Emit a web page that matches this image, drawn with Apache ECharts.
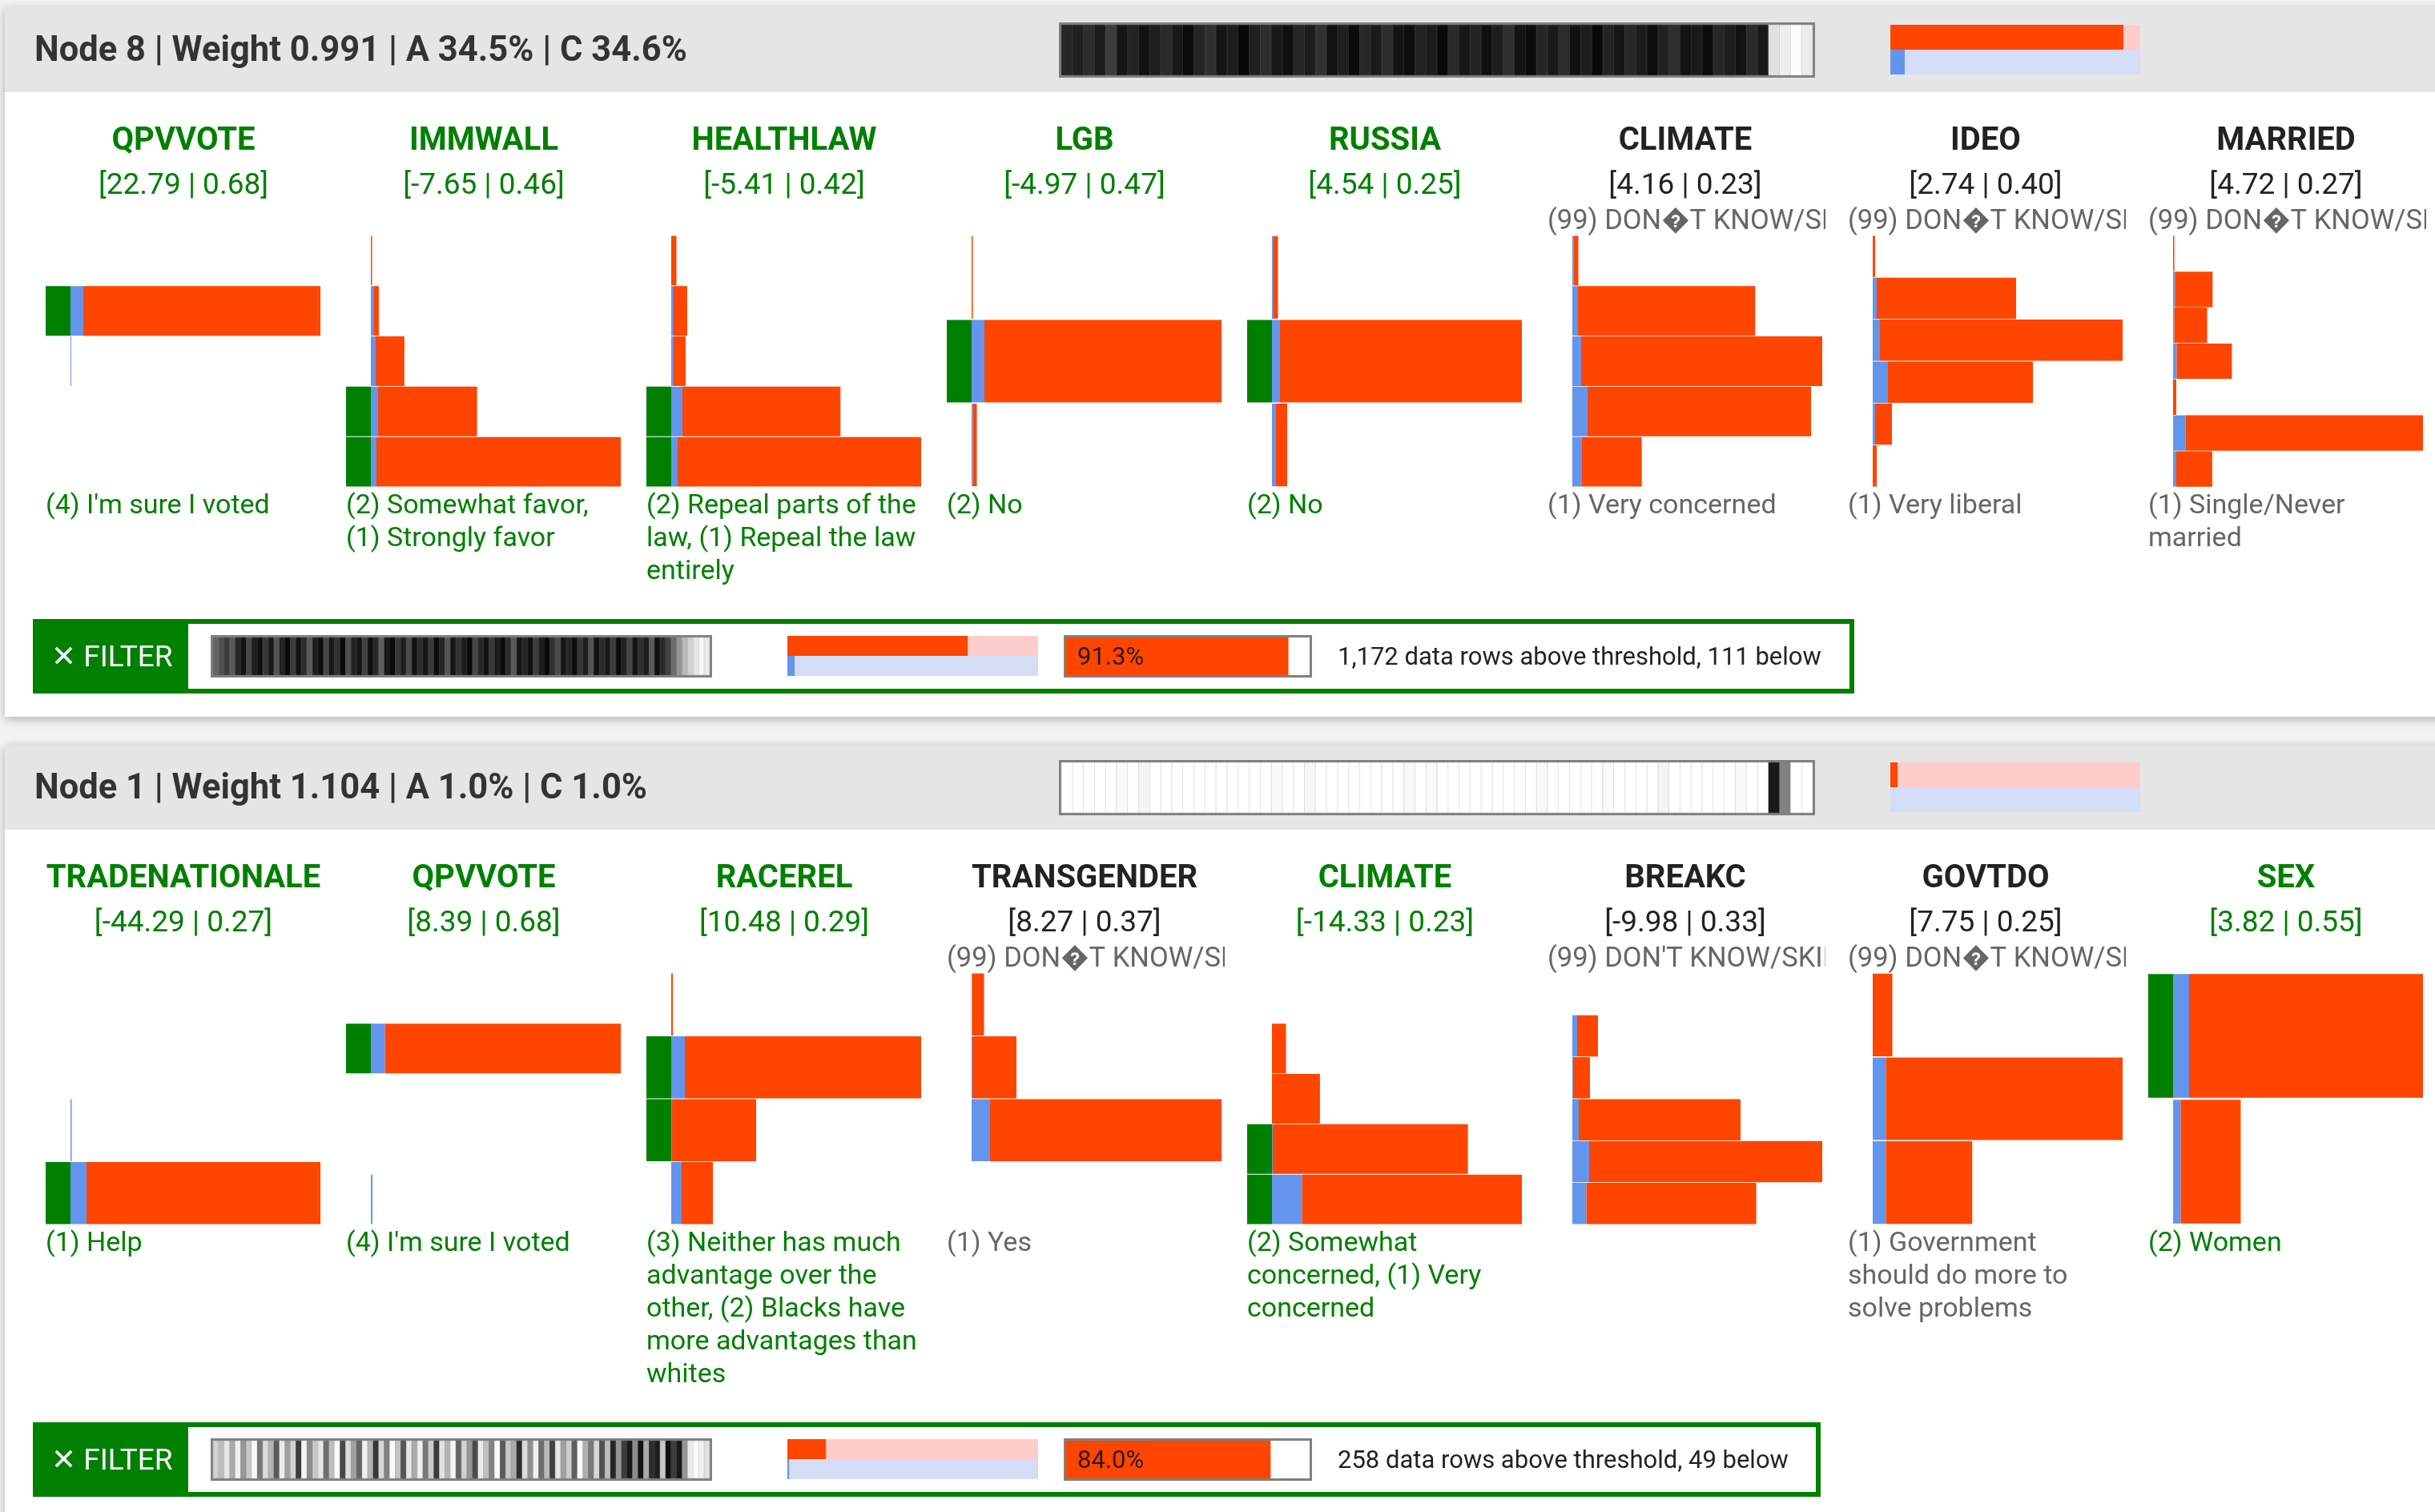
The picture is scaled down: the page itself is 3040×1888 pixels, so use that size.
<!DOCTYPE html>
<html>
<head>
<meta charset="utf-8">
<title>Node cards</title>
<script src="https://cdn.jsdelivr.net/npm/echarts@6/dist/echarts.min.js"></script>
<style>
  html, body { margin: 0; padding: 0; overflow: hidden; background: #f3f3f3; }
  #main { width: 3040px; height: 1888px; }
</style>
</head>
<body>
<div id="main"></div>
<script>
var RED = '#ff4500', BLUE = '#6495ed', GREEN = '#008000', PINK = '#ffcccc', LBLUE = '#d3ddf6';
var FONT = 'Roboto, "DejaVu Sans", sans-serif';
var DK = '(99) DON\uFFFDT KNOW/SKIPPED';

// ---------- Node 8 ----------
var n8Title = 'Node 8 | Weight 0.991 | A 34.5% | C 34.6%';
var n8Vars = ['QPVVOTE', 'IMMWALL', 'HEALTHLAW', 'LGB', 'RUSSIA', 'CLIMATE', 'IDEO', 'MARRIED'];
var n8Stats = ['[22.79 | 0.68]', '[-7.65 | 0.46]', '[-5.41 | 0.42]', '[-4.97 | 0.47]', '[4.54 | 0.25]', '[4.16 | 0.23]', '[2.74 | 0.40]', '[4.72 | 0.27]'];
var n8Split = [1, 1, 1, 1, 1, 0, 0, 0];
var n8Top = ['', '', '', '', '', DK, DK, DK];
var n8Bottom = [
  '(4) I\'m sure I voted',
  '(2) Somewhat favor,\n(1) Strongly favor',
  '(2) Repeal parts of the\nlaw, (1) Repeal the law\nentirely',
  '(2) No',
  '(2) No',
  '(1) Very concerned',
  '(1) Very liberal',
  '(1) Single/Never\nmarried'
];
var n8Cats = [
  ['(99)', '(4)', '(3)', '(2)', '(1)'],
  ['(99)', '(4)', '(3)', '(2)', '(1)'],
  ['(99)', '(4)', '(3)', '(2)', '(1)'],
  ['(99)', '(2)', '(1)'],
  ['(99)', '(2)', '(1)'],
  ['(99)', '(4)', '(3)', '(2)', '(1)'],
  ['(99)', '(5)', '(4)', '(3)', '(2)', '(1)'],
  ['(99)', '(6)', '(5)', '(4)', '(3)', '(2)', '(1)']
];
var n8Blue = [
  [0, 16, 1, 0, 0],
  [0, 4, 6, 9, 7],
  [0, 3, 3, 14, 8],
  [0, 16, 1.5],
  [2, 10, 5],
  [1.5, 7, 11, 19, 12],
  [0, 5, 9, 19, 3, 0],
  [0, 2.4, 1.6, 4.5, 0, 15.5, 4]
];
var n8Red = [
  [0, 297, 0, 0, 0],
  [1.5, 6, 36, 124, 306],
  [6.5, 17, 15, 198, 305],
  [1.5, 296, 5],
  [5.5, 302, 14],
  [6, 222, 302, 280, 75],
  [3, 174, 303, 181, 21, 5],
  [1.6, 47, 41, 69, 4, 297, 45]
];
var n8Sel = [
  [0, 1, 0, 0, 0],
  [0, 0, 0, 1, 1],
  [0, 0, 0, 1, 1],
  [0, 1, 0],
  [0, 1, 0],
  [0, 0, 0, 0, 0],
  [0, 0, 0, 0, 0, 0],
  [0, 0, 0, 0, 0, 0, 0]
];
var n8Bar = [38, 32, 45, 28, 60, 22, 35, 18, 30, 42, 25, 12, 36, 48, 20, 28, 8, 33, 45, 24,
  15, 38, 28, 50, 18, 32, 12, 40, 26, 46, 20, 14, 34, 28, 10, 42, 24, 36, 16, 30,
  48, 20, 12, 38, 26, 44, 18, 30, 8, 36, 22, 40, 28, 14, 34, 46, 20, 26, 12, 38,
  30, 18, 42, 24, 225, 238, 252, 236];
var n8Share = [0.933, 0.058];
var n8FilterBar = [100, 80, 60, 90, 40, 20, 70, 30, 15, 55, 25, 85, 35, 10, 60, 20, 45, 90, 30, 15,
  70, 25, 50, 12, 80, 35, 20, 65, 15, 40, 95, 25, 10, 55, 30, 75, 18, 45, 22, 60,
  12, 35, 85, 20, 50, 28, 10, 70, 40, 18, 58, 30, 12, 45, 88, 22, 35, 15, 62, 28,
  10, 48, 75, 20, 38, 14, 55, 30, 85, 18, 42, 25, 60, 12, 35, 70, 20, 48, 28, 90,
  15, 40, 65, 110, 150, 185, 210, 230, 245, 235];
var n8FilterShare = [0.72, 0.03];
var n8FilterPct = 91.3;
var n8FilterText = '1,172 data rows above threshold, 111 below';

// ---------- Node 1 ----------
var n1Title = 'Node 1 | Weight 1.104 | A 1.0% | C 1.0%';
var n1Vars = ['TRADENATIONALE', 'QPVVOTE', 'RACEREL', 'TRANSGENDER', 'CLIMATE', 'BREAKC', 'GOVTDO', 'SEX'];
var n1Stats = ['[-44.29 | 0.27]', '[8.39 | 0.68]', '[10.48 | 0.29]', '[8.27 | 0.37]', '[-14.33 | 0.23]', '[-9.98 | 0.33]', '[7.75 | 0.25]', '[3.82 | 0.55]'];
var n1Split = [1, 1, 1, 0, 1, 0, 0, 1];
var n1Top = ['', '', '', DK, '', '(99) DON\'T KNOW/SKIPPED', DK, ''];
var n1Bottom = [
  '(1) Help',
  '(4) I\'m sure I voted',
  '(3) Neither has much\nadvantage over the\nother, (2) Blacks have\nmore advantages than\nwhites',
  '(1) Yes',
  '(2) Somewhat\nconcerned, (1) Very\nconcerned',
  '',
  '(1) Government\nshould do more to\nsolve problems',
  '(2) Women'
];
var n1Cats = [
  ['(99)', '(3)', '(2)', '(1)'],
  ['(99)', '(4)', '(3)', '(2)', '(1)'],
  ['(99)', '(3)', '(2)', '(1)'],
  ['(99)', '(3)', '(2)', '(1)'],
  ['(99)', '(4)', '(3)', '(2)', '(1)'],
  ['(99)', '(5)', '(4)', '(3)', '(2)', '(1)'],
  ['(99)', '(2)', '(1)'],
  ['(2)', '(1)']
];
var n1Blue = [
  [0, 0, 1.5, 20],
  [0, 17.6, 0, 0, 2],
  [0, 17, 1, 13],
  [0.5, 1, 23, 0],
  [0, 0, 0, 1, 37.5],
  [0, 6, 1, 8, 21, 17.6],
  [0, 16.4, 16.4],
  [20, 9.4]
];
var n1Red = [
  [0, 0, 0, 292],
  [0, 294.6, 0, 0, 0],
  [2, 295, 105, 39],
  [15, 55, 289, 0],
  [0, 17.6, 60, 244, 275],
  [0, 26, 21, 202, 291, 212],
  [24.6, 296, 108],
  [292, 75]
];
var n1Sel = [
  [0, 0, 0, 1],
  [0, 1, 0, 0, 0],
  [0, 1, 1, 0],
  [0, 0, 0, 0],
  [0, 0, 0, 1, 1],
  [0, 0, 0, 0, 0, 0],
  [0, 0, 0],
  [1, 0]
];
var n1Bar = [255, 255, 255, 255, 255, 250, 255, 244, 255, 255, 255, 255, 255, 255, 255, 255, 255, 255, 255, 250,
  255, 255, 246, 255, 255, 255, 255, 255, 255, 255, 255, 248, 255, 250, 255, 255, 255, 255, 255, 255,
  255, 255, 255, 248, 255, 255, 255, 255, 255, 250, 255, 255, 255, 255, 244, 255, 255, 255, 255, 255,
  255, 250, 255, 255, 25, 130, 255, 255];
var n1Share = [0.03, 0.0];
var n1FilterBar = [210, 190, 230, 170, 240, 150, 200, 250, 120, 220, 180, 90, 235, 160, 210, 60, 245, 140, 200, 230,
  110, 190, 250, 70, 220, 160, 100, 240, 180, 55, 215, 130, 250, 195, 85, 230, 170, 240, 120, 205,
  60, 225, 180, 245, 100, 210, 150, 75, 235, 190, 130, 250, 90, 200, 170, 45, 220, 145, 240, 110,
  185, 65, 230, 160, 205, 95, 250, 175, 120, 215, 80, 190, 35, 150, 60, 25, 140, 20, 170, 45,
  30, 200, 15, 60, 25, 150, 235, 250, 240, 225];
var n1FilterShare = [0.155, 0.008];
var n1FilterPct = 84.0;
var n1FilterText = '258 data rows above threshold, 49 below';

// ---------- build ----------
var chart = echarts.init(document.getElementById('main'), null, {renderer: 'canvas'});
var grids = [], xAxes = [], yAxes = [], series = [], G = [];

function addGrid(x, y, w, h) {
  grids.push({left: x, top: y, width: w, height: h, containLabel: false});
  return grids.length - 1;
}
// background pieces sit below the series (series z = 2)
function rect(x, y, w, h, fill, z, extra) {
  G.push({type: 'rect', z: z, silent: true, shape: {x: x, y: y, width: w, height: h},
    style: Object.assign({fill: fill}, extra || {})});
}
function text(x, y, s, st, z) {
  G.push({type: 'text', x: x, y: y, z: z || 20, silent: true,
    style: Object.assign({text: s, fontFamily: FONT, fontSize: 34, fill: '#222', align: 'left', verticalAlign: 'middle'}, st)});
}

function barcode(grays, x, y, w, h) {
  var gi = addGrid(x, y, w, h);
  xAxes.push({gridIndex: gi, type: 'category', data: grays.map(function (g, k) { return k; }), show: false});
  yAxes.push({gridIndex: gi, type: 'value', min: 0, max: 1, show: false});
  series.push({type: 'bar', xAxisIndex: gi, yAxisIndex: gi, barCategoryGap: 0, silent: true,
    data: grays.map(function (g) {
      var c = 'rgb(' + g + ',' + g + ',' + g + ')';
      return {value: 1, itemStyle: {color: c, borderColor: c, borderWidth: 0.6}};
    })});
}

function shareBars(share, x, y, w, h) {
  var gi = addGrid(x, y, w, h);
  xAxes.push({gridIndex: gi, type: 'value', min: 0, max: 1, show: false});
  yAxes.push({gridIndex: gi, type: 'category', data: ['A', 'C'], inverse: true, show: false});
  series.push({type: 'bar', xAxisIndex: gi, yAxisIndex: gi, stack: 's' + gi, barCategoryGap: 0, silent: true,
    data: [{value: share[0], itemStyle: {color: RED}}, {value: share[1], itemStyle: {color: BLUE}}]});
  series.push({type: 'bar', xAxisIndex: gi, yAxisIndex: gi, stack: 's' + gi, barCategoryGap: 0, silent: true,
    data: [{value: 1 - share[0], itemStyle: {color: PINK}}, {value: 1 - share[1], itemStyle: {color: LBLUE}}]});
}

function pctBar(pct, x, y, w, h) {
  var gi = addGrid(x, y, w, h);
  xAxes.push({gridIndex: gi, type: 'value', min: 0, max: 100, show: false});
  yAxes.push({gridIndex: gi, type: 'category', data: ['p'], show: false});
  series.push({type: 'bar', xAxisIndex: gi, yAxisIndex: gi, barCategoryGap: 0, silent: true,
    itemStyle: {color: RED}, data: [pct],
    label: {show: true, position: 'insideLeft', distance: 14, offset: [0, 3], color: '#2a1a14', fontFamily: FONT, fontSize: 31,
      formatter: function (p) { return p.value.toFixed(1) + '%'; }}});
}

function barChart(x, y, cats, blue, red, sel) {
  var gi = addGrid(x, y, 343, 314);
  var M = Math.max.apply(null, blue.map(function (b, k) { return b + red[k]; }));
  var g0 = M * 31 / 312;
  xAxes.push({gridIndex: gi, type: 'value', min: -g0, max: M, show: false});
  yAxes.push({gridIndex: gi, type: 'category', data: cats, inverse: true, show: false});
  var common = {type: 'bar', xAxisIndex: gi, yAxisIndex: gi, stack: 'k' + gi, barCategoryGap: '1.5%', silent: true};
  series.push(Object.assign({name: 'split', itemStyle: {color: GREEN},
    data: sel.map(function (s) { return s ? -g0 : 0; })}, common));
  series.push(Object.assign({name: 'C', itemStyle: {color: BLUE}, data: blue}, common));
  series.push(Object.assign({name: 'A', itemStyle: {color: RED}, data: red}, common));
}

function buildCard(d, oy, cardH, ft, fRight) {
  rect(6, oy + 9, 3060, cardH, '#fff', -3, {shadowBlur: 12, shadowColor: 'rgba(0,0,0,0.28)', shadowOffsetY: 3});
  rect(6, oy + 9, 3060, 106, '#e5e5e5', -2);
  text(43, oy + 65, d.title, {fontSize: 43.5, fontWeight: 'bold', fill: '#333'});

  rect(1322, oy + 28, 944, 69, '#808080', 1);
  barcode(d.bar, 1325, oy + 31, 938, 63);
  shareBars(d.share, 2360, oy + 31, 312, 62);

  for (var i = 0; i < 8; i++) {
    var L = 57 + 375 * i;
    var col = d.split[i] ? GREEN : '#222';
    text(L + 172, oy + 177, d.vars[i], {fontSize: 40, fontWeight: 'bold', fill: col, align: 'center'});
    text(L + 172, oy + 233, d.stats[i], {fontSize: 37, fill: col, align: 'center'});
    if (d.top[i]) {
      text(L, oy + 277, d.top[i], {fontSize: 34.5, fill: '#666', width: 372, overflow: 'truncate', ellipsis: ''});
      rect(L + 347, oy + 252, 28, 48, '#fff', 30);
    }
    barChart(L, oy + 294, d.cats[i], d.blue[i], d.red[i], d.sel[i]);
    if (d.bottom[i]) {
      text(L, oy + 612, d.bottom[i], {fontSize: 34, lineHeight: 41, verticalAlign: 'top',
        fill: d.split[i] ? GREEN : '#666'});
    }
  }

  // filter strip
  rect(41, ft, fRight - 41, 93, GREEN, -1);
  rect(235, ft + 6, fRight - 6 - 235, 81, '#fff', 0);
  text(64, ft + 50, '\u2715 FILTER', {fontSize: 37, fill: '#fff'});
  rect(263, ft + 20, 626, 53, '#808080', 1);
  barcode(d.fbar, 266, ft + 23, 620, 47);
  shareBars(d.fshare, 983, ft + 21, 313, 50);
  rect(1328, ft + 20, 310, 53, '#808080', 1);
  rect(1331, ft + 23, 304, 47, '#fff', 1.5);
  pctBar(d.fpct, 1331, ft + 23, 304, 47);
  text(1670, ft + 49, d.ftext, {fontSize: 31, fill: '#222'});
}

buildCard({title: n8Title, vars: n8Vars, stats: n8Stats, split: n8Split, top: n8Top, bottom: n8Bottom,
  cats: n8Cats, blue: n8Blue, red: n8Red, sel: n8Sel, bar: n8Bar, share: n8Share,
  fbar: n8FilterBar, fshare: n8FilterShare, fpct: n8FilterPct, ftext: n8FilterText}, 0, 886, 773, 2315);

buildCard({title: n1Title, vars: n1Vars, stats: n1Stats, split: n1Split, top: n1Top, bottom: n1Bottom,
  cats: n1Cats, blue: n1Blue, red: n1Red, sel: n1Sel, bar: n1Bar, share: n1Share,
  fbar: n1FilterBar, fshare: n1FilterShare, fpct: n1FilterPct, ftext: n1FilterText}, 921, 1000, 1776, 2273);

chart.setOption({
  animation: false,
  backgroundColor: '#f3f3f3',
  grid: grids,
  xAxis: xAxes,
  yAxis: yAxes,
  series: series,
  graphic: {elements: G}
});
</script>
</body>
</html>
